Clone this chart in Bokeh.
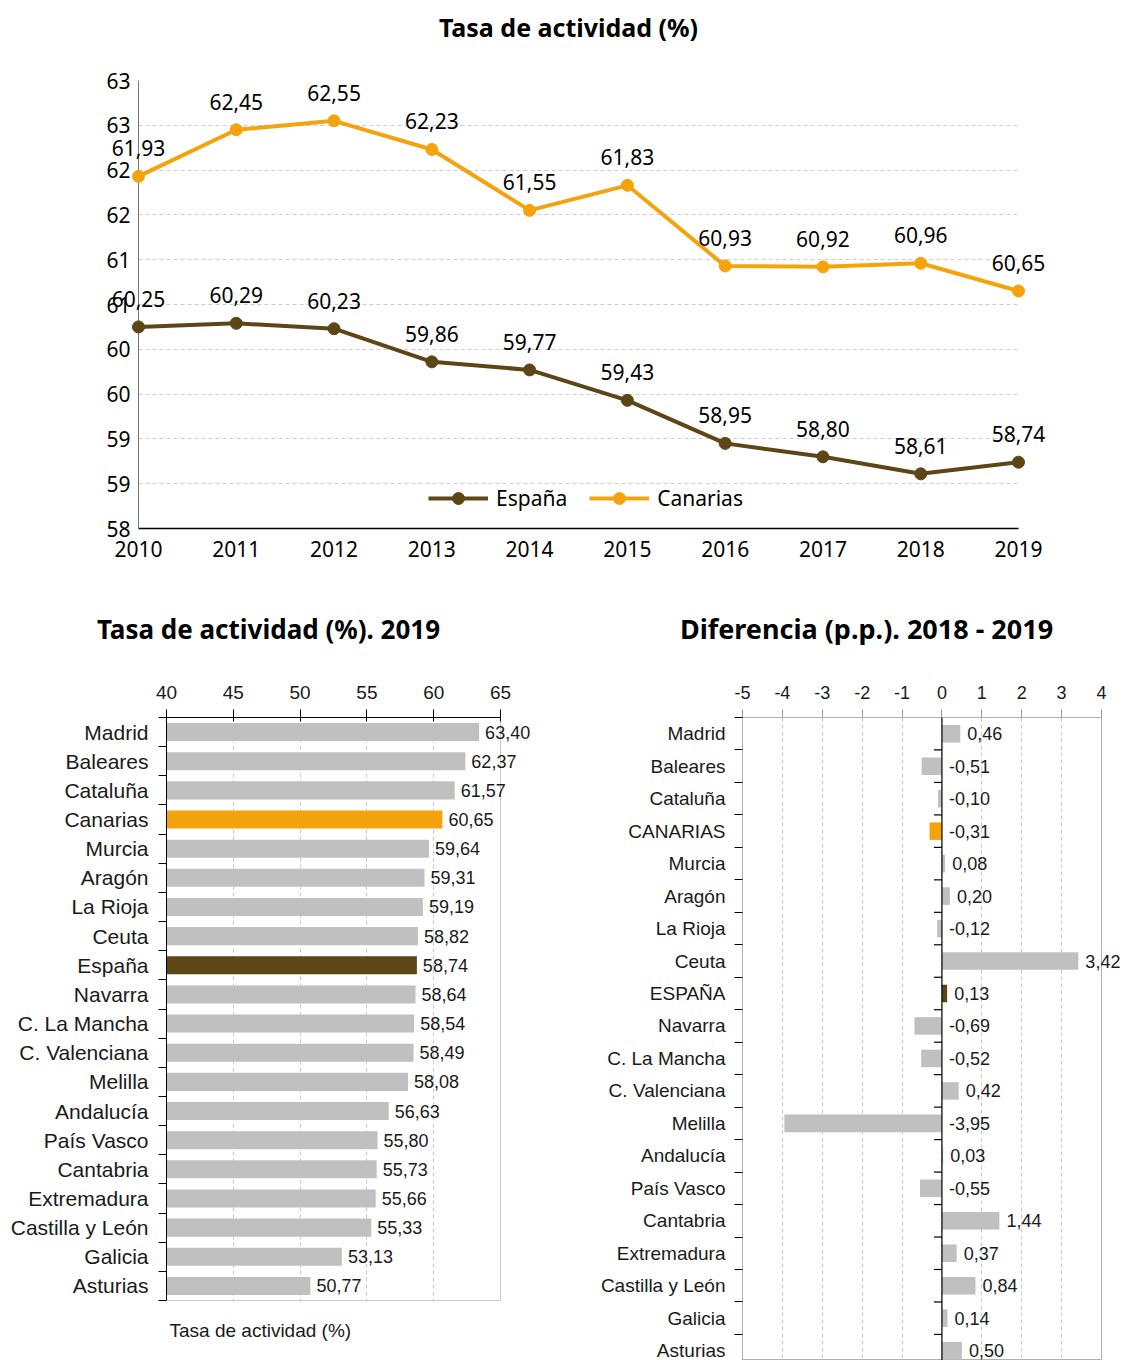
from bokeh.plotting import figure
from bokeh.layouts import column, row
from bokeh.models import (FixedTicker, Range1d, Legend, LegendItem,
                          ColumnDataSource, Span, Title)
from bokeh.core.properties import value
from bokeh.embed import file_html
from bokeh.resources import INLINE

# ---------------- data ----------------
years = [2010, 2011, 2012, 2013, 2014, 2015, 2016, 2017, 2018, 2019]
espana = [60.25, 60.29, 60.23, 59.86, 59.77, 59.43, 58.95, 58.80, 58.61, 58.74]
canarias = [61.93, 62.45, 62.55, 62.23, 61.55, 61.83, 60.93, 60.92, 60.96, 60.65]
y_ticks = [58, 58.5, 59, 59.5, 60, 60.5, 61, 61.5, 62, 62.5, 63]
y_tick_labels = ["58", "59", "59", "60", "60", "61", "61", "62", "62", "63", "63"]

regions_2019 = ["Madrid", "Baleares", "Cataluña", "Canarias", "Murcia", "Aragón",
                "La Rioja", "Ceuta", "España", "Navarra", "C. La Mancha",
                "C. Valenciana", "Melilla", "Andalucía", "País Vasco", "Cantabria",
                "Extremadura", "Castilla y León", "Galicia", "Asturias"]
tasa_2019 = [63.40, 62.37, 61.57, 60.65, 59.64, 59.31, 59.19, 58.82, 58.74, 58.64,
             58.54, 58.49, 58.08, 56.63, 55.80, 55.73, 55.66, 55.33, 53.13, 50.77]
left_ticks = [40, 45, 50, 55, 60, 65]

regions_diff = ["Madrid", "Baleares", "Cataluña", "CANARIAS", "Murcia", "Aragón",
                "La Rioja", "Ceuta", "ESPAÑA", "Navarra", "C. La Mancha",
                "C. Valenciana", "Melilla", "Andalucía", "País Vasco", "Cantabria",
                "Extremadura", "Castilla y León", "Galicia", "Asturias"]
diff_2018_2019 = [0.46, -0.51, -0.10, -0.31, 0.08, 0.20, -0.12, 3.42, 0.13, -0.69,
                  -0.52, 0.42, -3.95, 0.03, -0.55, 1.44, 0.37, 0.84, 0.14, 0.50]
right_ticks = [-5, -4, -3, -2, -1, 0, 1, 2, 3, 4]

ORANGE = "#F5A30C"
BROWN = "#5C4616"
GREY = "#C0C0C0"
SANS = "Noto Sans"
ARIAL = "Liberation Sans"
TXT = "#1a1a1a"


def fmt(v):
    return f"{v:.2f}".replace(".", ",")


def bar_color(name):
    n = name.lower()
    if n == "canarias":
        return ORANGE
    if n == "españa":
        return BROWN
    return GREY


def no_frame_align(fig):
    if "frame_align" in fig.properties():
        fig.frame_align = False


def add_title(fig, text, x_anchor, y_anchor, dx, dy, size):
    # title text anchored at a frame corner, shifted by screen pixels (dx, dy)
    fig.text(x=[x_anchor], y=[y_anchor], text=[text], x_offset=dx, y_offset=dy,
             text_align="center", text_baseline="middle", text_font=value(SANS),
             text_font_style="bold", text_font_size=size, text_color="black",
             level="overlay")


# ---------------- top line chart ----------------
p = figure(width=1124, height=590, x_range=Range1d(2010, 2019), y_range=Range1d(58, 63),
           output_backend="svg", toolbar_location=None,
           min_border_left=138, min_border_right=106, min_border_top=80, min_border_bottom=62)
no_frame_align(p)
p.outline_line_color = None
add_title(p, "Tasa de actividad (%)", p.x_range.start, p.y_range.end, 430, -54, "25px")

p.xaxis.ticker = FixedTicker(ticks=years)
p.xaxis.major_tick_out = 0
p.xaxis.major_tick_in = 0
p.xaxis.minor_tick_out = 0
p.xaxis.minor_tick_in = 0
p.xaxis.axis_line_color = "black"
p.xaxis.axis_line_width = 1.5
p.xaxis.major_label_text_font = SANS
p.xaxis.major_label_text_font_size = "21px"
p.xaxis.major_label_text_color = "black"
p.xaxis.major_label_standoff = 12

p.yaxis.ticker = FixedTicker(ticks=y_ticks)
p.yaxis.major_label_overrides = {t: l for t, l in zip(y_ticks, y_tick_labels)}
p.yaxis.major_tick_out = 0
p.yaxis.major_tick_in = 0
p.yaxis.minor_tick_out = 0
p.yaxis.minor_tick_in = 0
p.yaxis.axis_line_color = "#777777"
p.yaxis.major_label_text_font = SANS
p.yaxis.major_label_text_font_size = "21px"
p.yaxis.major_label_text_color = "black"
p.yaxis.major_label_standoff = 8

p.xgrid.grid_line_color = None
p.ygrid.grid_line_color = "#cccccc"
p.ygrid.grid_line_dash = "4 3"
p.ygrid.grid_line_width = 1

src = ColumnDataSource(dict(x=years, esp=espana, can=canarias,
                            esp_l=[fmt(v) for v in espana], can_l=[fmt(v) for v in canarias]))
l1 = p.line("x", "esp", source=src, line_color=BROWN, line_width=4, level="overlay")
c1 = p.scatter("x", "esp", source=src, size=12, fill_color=BROWN, line_color=BROWN, level="overlay")
l2 = p.line("x", "can", source=src, line_color=ORANGE, line_width=4, level="overlay")
c2 = p.scatter("x", "can", source=src, size=12, fill_color=ORANGE, line_color=ORANGE, level="overlay")
p.text("x", "esp", text="esp_l", source=src, text_align="center", text_baseline="bottom",
       y_offset=-20, text_font=value(SANS), text_font_size="21px", text_color="black",
       level="overlay")
p.text("x", "can", text="can_l", source=src, text_align="center", text_baseline="bottom",
       y_offset=-20, text_font=value(SANS), text_font_size="21px", text_color="black",
       level="overlay")

legend = Legend(items=[LegendItem(label="España", renderers=[l1, c1]),
                       LegendItem(label="Canarias", renderers=[l2, c2])],
                orientation="horizontal", location=(284, 9),
                glyph_width=60, glyph_height=30, label_standoff=8, spacing=22,
                label_text_font=SANS, label_text_font_size="21px", label_text_color="black",
                background_fill_alpha=0, border_line_alpha=0, margin=0, padding=6)
p.add_layout(legend)

# ---------------- bottom left bar chart ----------------
n = len(regions_2019)
idx = list(range(n))
pl = figure(width=560, height=770, x_range=Range1d(40, 65), y_range=Range1d(n - 0.5, -0.5),
            x_axis_location="above", output_backend="svg", toolbar_location=None,
            min_border_left=166, min_border_right=60, min_border_top=127, min_border_bottom=60)
no_frame_align(pl)
pl.outline_line_color = "#c8c8c8"
add_title(pl, "Tasa de actividad (%). 2019", pl.x_range.start, pl.y_range.end, 102, -89, "26px")

src_l = ColumnDataSource(dict(y=idx, v=tasa_2019, c=[bar_color(r) for r in regions_2019],
                              t=[fmt(v) for v in tasa_2019]))
pl.hbar(y="y", right="v", left=left_ticks[0], height=0.62, source=src_l,
        fill_color="c", line_color=None)
pl.text("v", "y", text="t", source=src_l, x_offset=6, text_baseline="middle",
        text_font=value(ARIAL), text_font_size="18px", text_color=TXT, level="overlay")

xa = pl.xaxis[0]
xa.ticker = FixedTicker(ticks=left_ticks)
xa.major_tick_out = 8
xa.major_tick_in = 4
xa.major_tick_line_color = "black"
xa.axis_line_color = "black"
xa.major_label_text_font = ARIAL
xa.major_label_text_font_size = "19px"
xa.major_label_text_color = TXT
xa.major_label_standoff = 11

ya = pl.yaxis[0]
ya.ticker = FixedTicker(ticks=idx, minor_ticks=[i - 0.5 for i in range(n + 1)])
ya.major_label_overrides = {i: r for i, r in zip(idx, regions_2019)}
ya.major_tick_out = 0
ya.major_tick_in = 0
ya.minor_tick_out = 8
ya.minor_tick_in = 0
ya.minor_tick_line_color = "black"
ya.axis_line_color = "black"
ya.major_label_text_font = ARIAL
ya.major_label_text_font_size = "21px"
ya.major_label_text_color = TXT
ya.major_label_standoff = 10

pl.ygrid.grid_line_color = None
pl.xgrid.grid_line_color = "#c8c8c8"
pl.xgrid.grid_line_dash = "4 3"

pl.add_layout(Title(text="Tasa de actividad (%)", align="left", offset=3, standoff=34,
                    text_font=ARIAL, text_font_style="normal", text_font_size="19px",
                    text_color=TXT), "below")

# ---------------- bottom right diff chart ----------------
m = len(regions_diff)
idx2 = list(range(m))
step_px = 32.47
frame_h = 1360 - 717
pr = figure(width=564, height=770, x_range=Range1d(-5, 4),
            y_range=Range1d(-0.5 + frame_h / step_px, -0.5),
            x_axis_location="above", output_backend="svg", toolbar_location=None,
            min_border_left=182, min_border_right=23, min_border_top=127, min_border_bottom=0)
no_frame_align(pr)
pr.outline_line_color = "#b0b0b0"
add_title(pr, "Diferencia (p.p.). 2018 - 2019", pr.x_range.start, pr.y_range.end, 124, -89, "27px")

src_r = ColumnDataSource(dict(y=idx2, v=diff_2018_2019,
                              c=[bar_color(r) for r in regions_diff],
                              lx=[max(v, 0) for v in diff_2018_2019],
                              t=[fmt(v) for v in diff_2018_2019]))
pr.hbar(y="y", left=0, right="v", height=0.54, source=src_r, fill_color="c", line_color=None)
pr.add_layout(Span(location=0, dimension="height", line_color="black", line_width=1.2))
tick_len = 8 * 9 / 359.0
bounds = [i - 0.5 for i in range(m + 1)]
pr.segment(x0=[-tick_len] * len(bounds), x1=[0] * len(bounds), y0=bounds, y1=bounds,
           line_color="black", line_width=1.2)
pr.text("lx", "y", text="t", source=src_r, x_offset=7, text_baseline="middle",
        text_font=value(ARIAL), text_font_size="18px", text_color=TXT, level="overlay")

xb = pr.xaxis[0]
xb.ticker = FixedTicker(ticks=right_ticks)
xb.major_label_overrides = {t: str(t) for t in right_ticks}
xb.major_tick_out = 8
xb.major_tick_in = 0
xb.major_tick_line_color = "#999999"
xb.axis_line_color = "#b0b0b0"
xb.major_label_text_font = ARIAL
xb.major_label_text_font_size = "18px"
xb.major_label_text_color = TXT
xb.major_label_standoff = 11

yb = pr.yaxis[0]
yb.ticker = FixedTicker(ticks=idx2, minor_ticks=bounds)
yb.major_label_overrides = {i: r for i, r in zip(idx2, regions_diff)}
yb.major_tick_out = 0
yb.major_tick_in = 0
yb.minor_tick_out = 8
yb.minor_tick_in = 0
yb.minor_tick_line_color = "black"
yb.axis_line_color = "#b0b0b0"
yb.major_label_text_font = ARIAL
yb.major_label_text_font_size = "19px"
yb.major_label_text_color = TXT
yb.major_label_standoff = 9

pr.ygrid.grid_line_color = None
pr.xgrid.grid_line_color = "#c8c8c8"
pr.xgrid.grid_line_dash = "4 3"

layout = column(p, row(pl, pr))
open("out.html", "w").write(file_html(layout, INLINE))
